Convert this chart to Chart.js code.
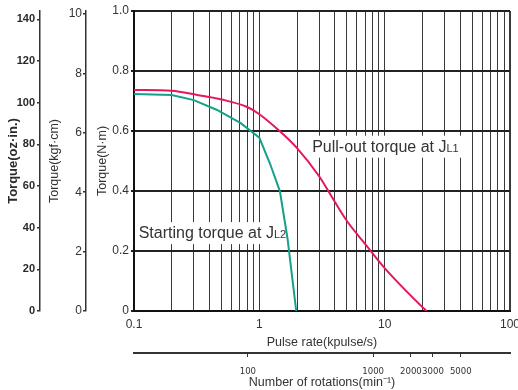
<!DOCTYPE html>
<html>
<head>
<meta charset="utf-8">
<script src="https://cdn.jsdelivr.net/npm/chart.js@4"></script>
<style>
  html, body { margin: 0; padding: 0; background: #fff; }
</style>
</head>
<body>
<canvas id="torqueChart" width="518" height="390"></canvas>
<script>
// curves: pulse rate (kpulse/s) -> torque (N·m)
const pullRate    = [0.1, 0.2, 0.32, 0.5, 0.8, 1.0, 1.45, 2.0, 3.0, 4.0, 5.0, 7.0, 10, 20, 21.6];
const pullTorque  = [0.737, 0.734, 0.72, 0.705, 0.68, 0.656, 0.6, 0.543, 0.449, 0.364, 0.30, 0.223, 0.143, 0.013, 0];
const startRate   = [0.1, 0.2, 0.3, 0.46, 0.71, 1.0, 1.22, 1.46, 1.68, 1.97];
const startTorque = [0.723, 0.72, 0.703, 0.67, 0.626, 0.578, 0.49, 0.399, 0.24, 0];

// axes
const nmTicks    = [0, 0.2, 0.4, 0.6, 0.8, 1.0];
const kgfTicks   = [0, 2, 4, 6, 8, 10];
const kgfMax     = 10.1;
const ozTicks    = [0, 20, 40, 60, 80, 100, 120, 140];
const ozMax      = 144;
const rateLabels = [0.1, 1, 10, 100];
const rpmTicks   = [100, 1000, 2000, 3000, 5000];
const rpmRange   = [12.35, 12350];

// labels on the plot, anchored in data units
const notes = [
  { text: 'Pull-out torque at J', sub: 'L1', rate: 2.64, torque: 0.531 },
  { text: 'Starting torque at J', sub: 'L2', rate: 0.109, torque: 0.243 }
];

// grid lines 1..9 in every decade
const rateGrid = [];
for (let d = 0; d < rateLabels.length - 1; d++) {
  for (let m = 1; m < 10; m++) rateGrid.push(+(rateLabels[d] * m).toPrecision(3));
}
rateGrid.push(rateLabels[rateLabels.length - 1]);

Chart.defaults.font.family = '"Liberation Sans", Arial, sans-serif';
Chart.defaults.color = '#333';

const txt = '#333';
const noteFont = '16px "Liberation Sans", Arial, sans-serif';
const subFont = '11px "Liberation Sans", Arial, sans-serif';

const notesPlugin = {
  id: 'notes',
  beforeDatasetsDraw(chart) {
    const ctx = chart.ctx;
    const xs = chart.scales.x, ys = chart.scales.y;
    ctx.save();
    notes.forEach(n => {
      const x = xs.getPixelForValue(n.rate);
      const y = ys.getPixelForValue(n.torque);
      ctx.font = noteFont;
      const w1 = ctx.measureText(n.text).width;
      ctx.font = subFont;
      const w2 = ctx.measureText(n.sub).width;
      ctx.fillStyle = '#fff';
      ctx.fillRect(x - 3, y - 16, w1 + w2 + 8, 22);
      ctx.fillStyle = txt;
      ctx.textAlign = 'left';
      ctx.textBaseline = 'alphabetic';
      ctx.font = noteFont;
      ctx.fillText(n.text, x, y);
      ctx.font = subFont;
      ctx.fillText(n.sub, x + w1, y);
    });
    ctx.restore();
  }
};

const setTicks = list => scale => { scale.ticks = list.map(v => ({ value: v })); };

new Chart(document.getElementById('torqueChart'), {
  type: 'line',
  data: {
    datasets: [
      {
        label: 'Pull-out torque at JL1',
        data: pullRate.map((r, i) => ({ x: r, y: pullTorque[i] })),
        borderColor: '#e4185c',
        borderWidth: 2,
        pointRadius: 0,
        cubicInterpolationMode: 'monotone',
        fill: false,
        xAxisID: 'x',
        yAxisID: 'y'
      },
      {
        label: 'Starting torque at JL2',
        data: startRate.map((r, i) => ({ x: r, y: startTorque[i] })),
        borderColor: '#12a28a',
        borderWidth: 2,
        pointRadius: 0,
        tension: 0,
        fill: false,
        xAxisID: 'x',
        yAxisID: 'y'
      }
    ]
  },
  options: {
    responsive: false,
    animation: false,
    events: [],
    layout: { padding: { top: 11, right: 8, bottom: 0, left: 0 } },
    plugins: {
      legend: { display: false },
      tooltip: { enabled: false }
    },
    scales: {
      x: {
        type: 'logarithmic',
        position: 'bottom',
        weight: 0,
        min: 0.1,
        max: 100,
        afterBuildTicks: setTicks(rateGrid),
        grid: {
          color: '#3a3a3a',
          lineWidth: c => (c.tick && c.tick.value === 100 ? 2 : 1),
          drawTicks: false
        },
        border: { display: true, color: '#111', width: 2 },
        ticks: {
          autoSkip: false,
          maxRotation: 0,
          padding: 6,
          color: txt,
          font: { size: 12 },
          callback: v => (rateLabels.some(r => Math.abs(r - v) / r < 1e-6) ? String(v) : '')
        },
        title: {
          display: true,
          text: 'Pulse rate(kpulse/s)',
          color: txt,
          font: { size: 12.5 },
          padding: { top: 0, bottom: 3 }
        },
        afterFit: s => { s.height = 42; s.paddingLeft = 0; s.paddingRight = 0; }
      },
      rpm: {
        type: 'logarithmic',
        position: 'bottom',
        weight: 1,
        min: rpmRange[0],
        max: rpmRange[1],
        afterBuildTicks: setTicks(rpmTicks),
        grid: { display: true, drawOnChartArea: false, drawTicks: true, tickLength: 4, color: '#333', lineWidth: 1 },
        border: { display: true, color: '#333', width: 2 },
        ticks: {
          autoSkip: false,
          maxRotation: 0,
          padding: 9,
          color: txt,
          font: { family: '"DejaVu Sans Condensed", "Liberation Sans", sans-serif', size: 9.5 },
          callback: v => String(v)
        },
        title: {
          display: true,
          text: 'Number of rotations(min⁻¹)',
          color: txt,
          font: { size: 12.5 },
          padding: { top: 0, bottom: 0 }
        },
        afterFit: s => { s.height = 37; s.paddingLeft = 0; s.paddingRight = 0; }
      },
      y: {
        type: 'linear',
        position: 'left',
        weight: 0,
        min: 0,
        max: 1,
        afterBuildTicks: setTicks(nmTicks),
        grid: { color: '#222', lineWidth: 2, drawTicks: true, tickLength: 3 },
        border: { display: true, color: '#111', width: 2 },
        ticks: {
          padding: 2,
          color: txt,
          font: { size: 12 },
          callback: v => (v === 0 ? '0' : v.toFixed(1))
        },
        title: {
          display: true,
          text: 'Torque(N·m)',
          color: txt,
          font: { size: 12.5 },
          padding: { top: 9.5, bottom: 0 }
        },
        afterFit: s => { s.width = 48; }
      },
      kgf: {
        type: 'linear',
        position: 'left',
        weight: 1,
        min: 0,
        max: kgfMax,
        afterBuildTicks: setTicks(kgfTicks),
        grid: { display: true, drawOnChartArea: false, drawTicks: true, tickLength: 3, color: '#333', lineWidth: 1.5 },
        border: { display: true, color: '#333', width: 1.5 },
        ticks: { padding: 1, color: txt, font: { size: 12 } },
        title: {
          display: true,
          text: 'Torque(kgf·cm)',
          color: txt,
          font: { size: 12.5 },
          padding: { top: 7.5, bottom: 0 }
        },
        afterFit: s => { s.width = 46; }
      },
      oz: {
        type: 'linear',
        position: 'left',
        weight: 2,
        min: 0,
        max: ozMax,
        afterBuildTicks: setTicks(ozTicks),
        grid: { display: true, drawOnChartArea: false, drawTicks: true, tickLength: 3, color: '#333', lineWidth: 1.5 },
        border: { display: true, color: '#333', width: 1.5 },
        ticks: { padding: 2, color: '#2a2a2a', font: { size: 11, weight: 'bold' } },
        title: {
          display: true,
          text: 'Torque(oz·in.)',
          color: '#2a2a2a',
          font: { size: 13, weight: 'bold' },
          padding: { top: 5.5, bottom: 0 }
        },
        afterFit: s => { s.width = 40; }
      }
    }
  },
  plugins: [notesPlugin]
});
</script>
</body>
</html>
